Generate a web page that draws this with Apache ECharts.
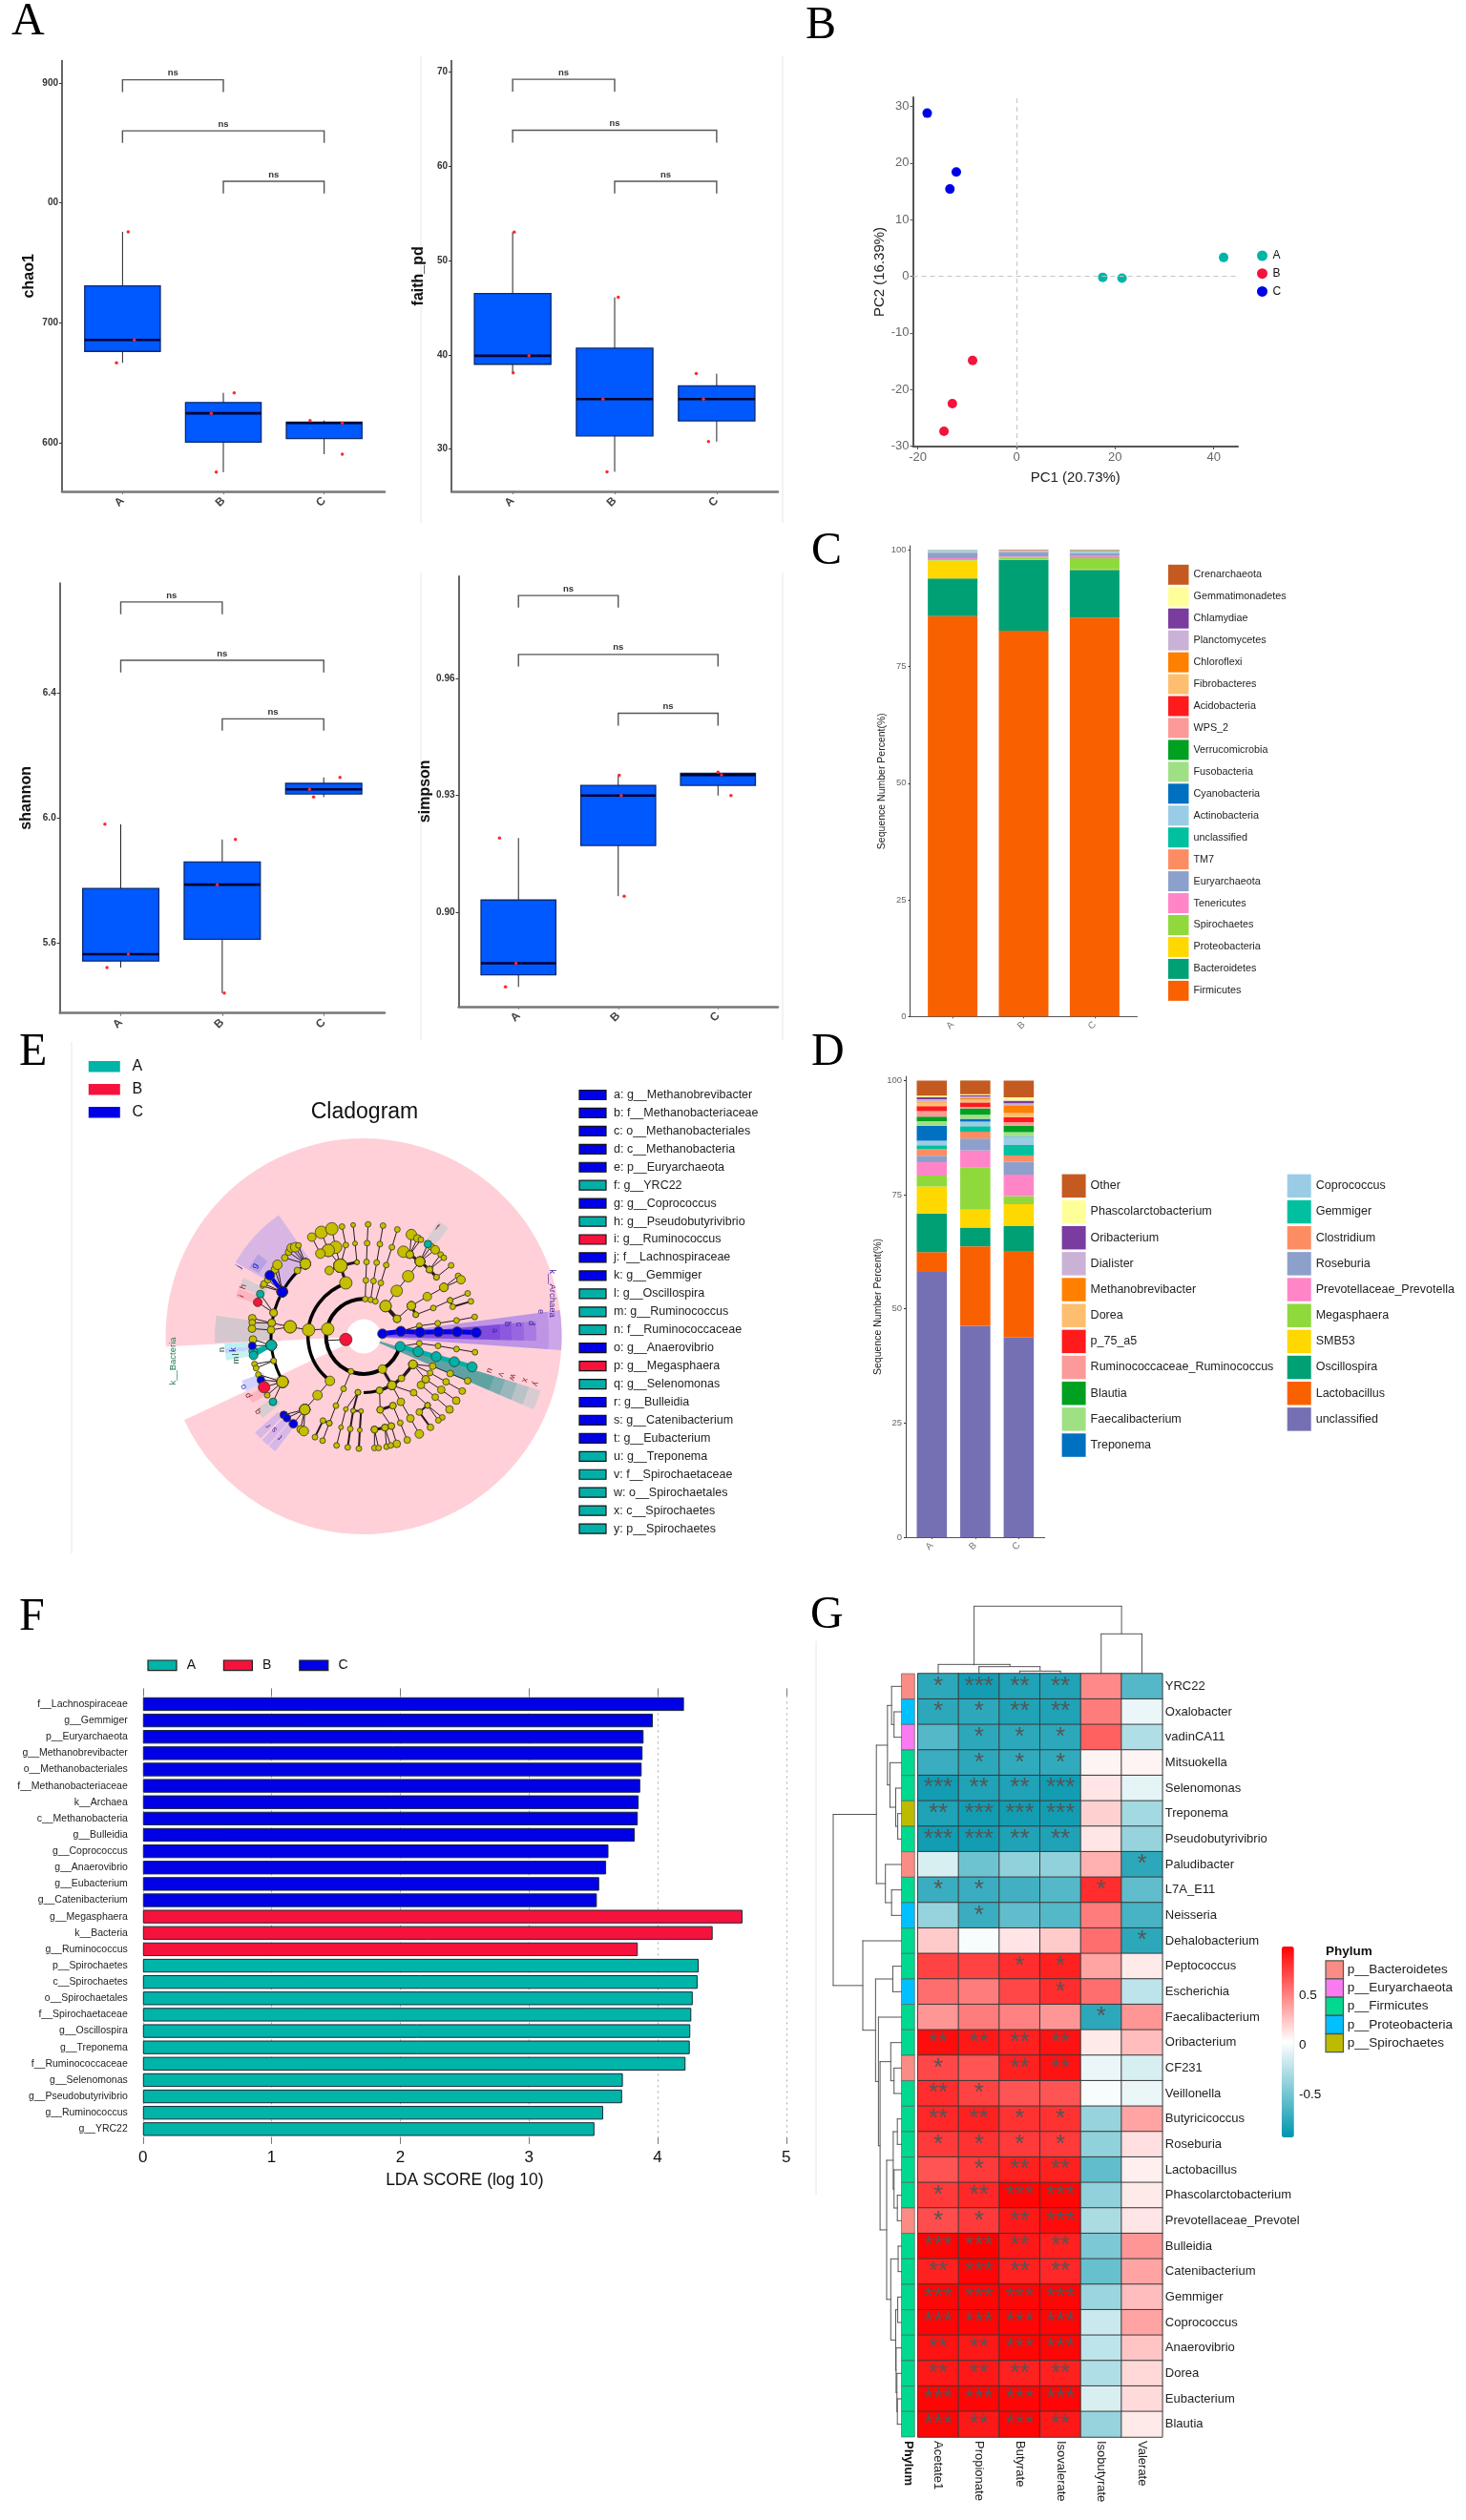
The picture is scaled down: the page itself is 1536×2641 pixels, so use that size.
<!DOCTYPE html>
<html><head><meta charset="utf-8">
<style>html,body{margin:0;padding:0;background:#fff}#c{width:1536px;height:2641px}</style>
<script src="https://cdn.jsdelivr.net/npm/echarts@6/dist/echarts.min.js"></script>
</head><body><div id="c"></div>
<script>
// ---------- Panel A ----------
const groups = ['A','B','C'];
// each box: hi whisker, q3, median, q1, lo whisker
const chao1Boxes = [[776,731,686,676.5,667],[642,634,625,601,576],[619,617.6,617,604,591]];
const chao1Points = [[1.056,776],[1.117,686],[0.94,667],[2.107,642],[1.88,625],[1.93,576],[2.86,619],[3.18,617],[3.18,591]];
const chao1Brackets = [[1,2,902.5,892.3],[1,3,860,850],[2,3,818,808]];
const faithBoxes = [[53,46.5,39.9,39,38.1],[46.1,40.7,35.3,31.4,27.6],[38,36.7,35.3,33,30.8]];
const faithPoints = [[1.015,53],[1.16,39.9],[1.005,38.1],[2.035,46.1],[1.885,35.3],[1.925,27.6],[2.8,38],[2.87,35.3],[2.92,30.8]];
const faithBrackets = [[1,2,69.2,67.9],[1,3,63.8,62.5],[2,3,58.4,57.1]];
const shannonBoxes = [[5.98,5.774,5.563,5.541,5.52],[5.931,5.859,5.786,5.611,5.438],[6.13,6.111,6.092,6.077,6.067]];
const shannonPoints = [[0.844,5.98],[1.075,5.563],[0.864,5.52],[2.13,5.931],[1.95,5.786],[2.02,5.438],[3.16,6.13],[2.86,6.092],[2.9,6.067]];
const shannonBrackets = [[1,2,6.693,6.654],[1,3,6.506,6.467],[2,3,6.318,6.28]];
const simpsonBoxes = [[0.9191,0.9032,0.887,0.884,0.8809],[0.9352,0.9326,0.93,0.9172,0.9042],[0.936,0.9357,0.9353,0.9326,0.93]];
const simpsonPoints = [[0.81,0.9191],[0.975,0.887],[0.87,0.8809],[2.01,0.9352],[2.03,0.93],[2.06,0.9042],[3.0,0.936],[3.035,0.9353],[3.13,0.93]];
const simpsonBrackets = [[1,2,0.9813,0.9782],[1,3,0.9662,0.9631],[2,3,0.9511,0.9479]];

// ---------- Panel B ----------
const pcaA = [[17.5,-0.2],[21.4,-0.35],[42,3.3]];
const pcaB = [[-8.9,-14.9],[-13,-22.5],[-14.7,-27.4]];
const pcaC = [[-18.1,28.8],[-12.2,18.4],[-13.5,15.4]];

// ---------- Panel C (bottom to top) ----------
const phylaNames = ['Firmicutes','Bacteroidetes','Proteobacteria','Spirochaetes','Tenericutes','Euryarchaeota','TM7','unclassified','Actinobacteria','Cyanobacteria','Fusobacteria','Verrucomicrobia','WPS_2','Acidobacteria','Fibrobacteres','Chloroflexi','Planctomycetes','Chlamydiae','Gemmatimonadetes','Crenarchaeota'];
const phylaColors = ['#F96000','#00A075','#FFD800','#8FD93D','#FF85C8','#8DA0CB','#FC8D62','#00C0A0','#9ACDE5','#0070C0','#A0E085','#00A020','#FB9A99','#FF1A1C','#FDBF6F','#FF7F00','#CAB2D6','#7A3C9E','#FFFF99','#C55A20'];
const phylaA = [85.8,8.1,3.8,0.1,0.4,1.2,0.05,0.05,0.4,0.02,0.01,0.01,0.01,0.01,0.01,0.01,0.01,0.01,0.0,0.01];
const phylaB = [82.7,15.2,0.1,0.4,0.2,0.85,0.1,0.05,0.1,0.03,0.02,0.02,0.03,0.02,0.02,0.02,0.02,0.01,0.01,0.1];
const phylaC = [85.5,10.2,0.1,2.4,0.5,0.55,0.05,0.05,0.45,0.02,0.01,0.01,0.02,0.01,0.01,0.01,0.01,0.01,0.01,0.08];

// ---------- Panel D (bottom to top) ----------
const genusNames = ['unclassified','Lactobacillus','Oscillospira','SMB53','Megasphaera','Prevotellaceae_Prevotella','Roseburia','Clostridium','Gemmiger','Coprococcus','Treponema','Faecalibacterium','Blautia','Ruminococcaceae_Ruminococcus','p_75_a5','Dorea','Methanobrevibacter','Dialister','Oribacterium','Phascolarctobacterium','Other'];
const genusColors = ['#7570B3','#F96000','#00A075','#FFD800','#8FD93D','#FF85C8','#8DA0CB','#FC8D62','#00C0A0','#9ACDE5','#0070C0','#A0E085','#00A020','#FB9A99','#FF1A1C','#FDBF6F','#FF7F00','#CAB2D6','#7A3C9E','#FFFF99','#C55A20'];
const genusA = [58.1,4.3,8.5,5.9,2.4,2.9,1.4,1.5,0.8,1.0,3.3,1.0,1.0,1.2,1.1,0.8,0.2,0.5,0.4,0.4,3.3];
const genusB = [46.3,17.4,4.1,3.9,9.2,3.8,2.6,1.5,1.2,1.0,0.6,0.9,1.4,0.3,1.0,0.6,0.3,0.4,0.3,0.2,3.0];
const genusC = [43.7,19.0,5.4,4.8,1.8,4.7,2.8,1.4,2.3,1.8,0.1,0.9,1.4,0.8,1.1,0.9,1.7,0.4,0.6,0.7,3.7];
const genusLegend1 = ['Other','Phascolarctobacterium','Oribacterium','Dialister','Methanobrevibacter','Dorea','p_75_a5','Ruminococcaceae_Ruminococcus','Blautia','Faecalibacterium','Treponema'];
const genusLegend2 = ['Coprococcus','Gemmiger','Clostridium','Roseburia','Prevotellaceae_Prevotella','Megasphaera','SMB53','Oscillospira','Lactobacillus','unclassified'];

// ---------- Panel E ----------
const cladeColors = {y:'#C6BE00',r:'#F5123C',b:'#0000E6',t:'#00B0A8'};
const cladeListNames = ['a: g__Methanobrevibacter','b: f__Methanobacteriaceae','c: o__Methanobacteriales','d: c__Methanobacteria','e: p__Euryarchaeota','f: g__YRC22','g: g__Coprococcus','h: g__Pseudobutyrivibrio','i: g__Ruminococcus','j: f__Lachnospiraceae','k: g__Gemmiger','l: g__Oscillospira','m: g__Ruminococcus','n: f__Ruminococcaceae','o: g__Anaerovibrio','p: g__Megasphaera','q: g__Selenomonas','r: g__Bulleidia','s: g__Catenibacterium','t: g__Eubacterium','u: g__Treponema','v: f__Spirochaetaceae','w: o__Spirochaetales','x: c__Spirochaetes','y: p__Spirochaetes'];
const cladeListGroups = ['b','b','b','b','b','t','b','t','r','b','b','t','t','t','b','r','t','b','b','b','t','t','t','t','t'];
// sectors: outer radius, inner radius (px of the source at 1:1), from angle, to angle, colour
const cladeSectors = [
 [207.5,18,205,543,'#FFD0D8'],
 [207.5,18,-4,7.6,'#CBA6E8'],[194,18,-4,7.6,'rgba(110,40,210,0.14)'],[181,18,-1.5,5,'rgba(90,30,220,0.22)'],[168,18,-1.5,5,'rgba(90,30,220,0.2)'],[155,18,-1.5,5,'rgba(90,30,220,0.2)'],[143,18,-1.5,5,'rgba(90,30,220,0.2)'],
 [194,18,-23.3,-17,'#D8CCD2'],[181,18,-23.3,-17,'rgba(30,140,140,0.16)'],[168,18,-23.3,-17,'rgba(30,140,140,0.2)'],[155,18,-23.3,-17,'rgba(30,140,140,0.25)'],[143,18,-23.3,-17,'rgba(30,140,140,0.3)'],
 [144,118,52,57,'#D8CDD2'],
 [155,95,125,150,'#D8B6E4'],[140,128,142,149,'#B8A0E4'],
 [140,112,154,158.5,'#D8CCD2'],[140,112,159,163,'#FFB4C0'],
 [156,95,172,182.5,'#D4C8CE'],
 [146,112,183,185,'#B8F0F2'],[146,112,185,187,'#C0D4FF'],[146,112,187,190,'#C4F2EE'],
 [136,112,200,205,'#D2D2FF'],[136,112,207,211,'#FFB4C0'],[136,112,214,219,'#D8CED2'],
 [152,120,221.5,224.8,'#D6B8E8'],[152,120,225.5,228.8,'#D6B8E8'],[152,120,229.2,232.5,'#D6B8E8']
];
// arcs: radius (clade units), from angle, to angle, line width
const cladeArcs = [[118,90,345,4],[175,108,233,3.5],[177,270,330,3],[291,135,209,3]];
// branches, centred on its root (left half)
const cladeChainsLeft = [
 [1,[337,400,13,'r'],[275,403,0]],
 [1,[280,367,13],[220,370,13],[162,360,13],[104,348,8],[43,333,8]],[1,[104,348,8],[43,347,7]],[1,[162,360,13],[102,370,8],[42,366,8]],
 [1,[110,316,8],[60,283,9,'r']],[1,[110,316,8],[68,257,8,'t']],
 [1,[137,250,11,'b'],[75,232,5]],[1,[137,250,11,'b'],[80,225,7]],[1,[137,250,11,'b'],[92,212,7]],[1,[137,250,11,'b'],[114,180,8]],[1,[137,250,11,'b'],[122,165,10]],[4,[137,250,11,'b'],[98,198,10,'b']],
 [2,[185,183,7],[210,162,11]],[1,[210,162,11],[145,143,7]],[1,[210,162,11],[157,125,7]],[1,[210,162,11],[165,112,9]],[1,[210,162,11],[178,110,10]],[1,[210,162,11],[188,104,6]],
 [1,[103,418,11,'t'],[45,400,8]],[4,[103,418,11,'t'],[46,437,9,'t']],[4,[103,418,11,'t'],[47,450,9,'t']],[1,[103,418,11,'t'],[43,420,8,'b']],
 [1,[110,467,6],[50,477,6]],[1,[110,467,6],[55,490,6]],
 [1,[138,533,12],[62,510,6]],[1,[138,533,12],[70,527,8,'b']],[1,[138,533,12],[90,575,6]],[1,[138,533,12],[108,596,8,'t']],[1,[138,533,12],[80,550,12,'r']],
 [1,[287,530,10],[248,575,10],[208,620,11],[142,637,8,'b']],[1,[208,620,11],[152,647,8,'b']],[1,[208,620,11],[172,665,9,'b']],[1,[208,620,11],[195,682,8]],[1,[208,620,11],[205,688,10]],
 [3,[337,222,13],[320,168,14]],[3,[320,168,14],[372,157,5]],[1,[372,157,5],[366,98,5],[360,40,5]],[1,[320,168,14],[285,183,9]],[1,[320,168,14],[282,120,13],[260,63,13]],[1,[320,168,14],[305,110,13],[293,52,13]],[1,[282,120,13],[257,130,10],[230,78,9]],[1,[320,168,14],[337,103,6],[325,45,6]],
 [1,[353,500,6],[330,555,6],[306,608,6],[285,663,6],[264,718,6]],[2,[285,663,6],[265,655,6],[240,707,6]],
 [1,[375,566,6],[337,619,5],[322,676,5],[308,733,6]],[2,[375,566,6],[360,624,5],[351,681,6],[343,739,6]],[2,[360,624,5],[385,625,5],[381,685,5],[378,743,6]]
];
// right half
const cladeChainsRight = [
 [1,[8,273,6],[10,214,6],[12,156,6],[14,97,6],[17,38,6]],
 [1,[25,275,6],[34,216,6],[44,158,6],[54,100,6],[64,42,6]],
 [1,[40,280,6],[57,222,6],[74,166,6],[92,110,6],[109,54,6]],
 [4,[72,295,12],[108,335,8]],
 [1,[72,295,12],[107,247,12],[143,201,12],[180,155,10]],
 [3,[148,133,8],[180,155,10]],[1,[148,133,8],[153,70,11]],[1,[148,133,8],[172,82,8]],[1,[128,124,12],[180,155,10]],[1,[148,133,8],[183,86,6]],
 [1,[180,155,10],[215,108,7]],[1,[180,155,10],[228,118,9]],[1,[180,155,10],[205,100,8,'t']],
 [3,[180,155,10],[210,180,7]],[3,[210,180,7],[232,204,6]],[1,[210,180,7],[245,133,6]],[1,[210,180,7],[255,143,6]],[1,[232,204,6],[278,167,6]],
 [1,[108,335,8],[153,294,9]],[1,[153,294,9],[203,265,9],[255,236,9],[300,200,6]],[1,[255,236,9],[309,212,9]],
 [3,[153,294,9],[167,322,6]],[1,[167,322,6],[222,301,6],[275,277,6],[330,255,6]],[2,[275,277,6],[283,297,6],[340,280,6]],
 [1,[120,374,0],[178,357,6],[236,349,6],[295,340,6],[352,329,6]],
 [1,[118,422,0],[178,412,6],[237,420,6],[295,430,6],[353,440,6]],
 [5,[62,382,10,'b'],[120,374,10.5,'b'],[180,377,10.5,'b'],[238,376,10.5,'b'],[297,376,10.5,'b'],[357,378,10.5,'b']],
 [5,[118,422,10.5,'t'],[174,438,10.5,'t'],[231,454,10.5,'t'],[288,470,10.5,'t'],[344,486,10.5,'t']],
 [3,[62,493,9],[92,544,9]],[3,[92,544,9],[122,522,7],[158,478,9]],
 [1,[158,478,9],[220,484,7],[275,507,7],[330,530,7]],[1,[158,478,9],[212,505,6],[262,533,7],[313,562,7]],
 [1,[158,478,9],[198,525,8],[247,558,8],[294,592,8]],[1,[198,525,8],[183,543,8],[228,581,7],[273,620,8]],
 [1,[92,544,9],[160,567,7],[204,607,6],[250,645,6]],[2,[204,607,6],[178,628,7],[213,676,7]],[1,[204,607,6],[238,654,6]],
 [1,[92,544,9],[120,596,8],[150,648,8],[178,697,9]],
 [3,[92,544,9],[53,560,7]],[1,[53,560,7],[55,621,7],[90,672,7],[107,728,8]],[3,[55,621,7],[95,608,7]],[1,[95,608,7],[118,662,6],[140,716,7]],
 [3,[37,683,7],[70,677,7],[90,672,7]],[1,[37,683,7],[37,741,6]],[1,[37,683,7],[50,741,6]],[1,[70,677,7],[75,737,6]],[1,[70,677,7],[88,733,6]]
];
// clade letters: text, x, y (px from root), rotation, colour
const cladeLetters = [
 ['a',137,6,-90,'#4020A0'],['b',150,13,-90,'#4020A0'],['c',162,12.5,-90,'#4020A0'],['d',175,14,-90,'#4020A0'],['e',185,26,-90,'#4020A0'],
 ['u',132,-36,-110,'#8B2020'],['v',144,-40,-110,'#8B2020'],['w',156,-43,-110,'#8B2020'],['x',169,-46,-110,'#8B2020'],['y',180,-50,-110,'#8B2020'],
 ['f',77,114,-35,'#8B2020'],['g',-114,74,60,'#2020C0'],['j',-131,73,60,'#2020C0'],['h',-126,52,70,'#8B2020'],['i',-128,42,70,'#8B2020'],
 ['n',-148,-14,90,'#205040'],['k',-136,-14,90,'#2020C0'],['l',-133,-19,90,'#205040'],['m',-133,-25,90,'#205040'],
 ['o',-126,-53,110,'#2020C0'],['p',-121,-62,115,'#8B2020'],['q',-111,-79,125,'#8B2020'],['r',-100,-94,130,'#6020A0'],['s',-93.5,-98,135,'#6020A0'],['t',-87.5,-106,135,'#6020A0'],
 ['k__Archaea',198,45,-90,'#4020A0'],['k__Bacteria',-200,-26,90,'#1E7A50']
];

// ---------- Panel F ----------
const ldaNames = ['f__Lachnospiraceae','g__Gemmiger','p__Euryarchaeota','g__Methanobrevibacter','o__Methanobacteriales','f__Methanobacteriaceae','k__Archaea','c__Methanobacteria','g__Bulleidia','g__Coprococcus','g__Anaerovibrio','g__Eubacterium','g__Catenibacterium','g__Megasphaera','k__Bacteria','g__Ruminococcus','p__Spirochaetes','c__Spirochaetes','o__Spirochaetales','f__Spirochaetaceae','g__Oscillospira','g__Treponema','f__Ruminococcaceae','g__Selenomonas','g__Pseudobutyrivibrio','g__Ruminococcus ','g__YRC22'];
const ldaValues = [4.205,3.963,3.891,3.883,3.876,3.865,3.853,3.846,3.823,3.618,3.6,3.546,3.528,4.66,4.428,3.846,4.319,4.311,4.273,4.262,4.254,4.25,4.217,3.73,3.724,3.577,3.509];
const ldaGroups = ['C','C','C','C','C','C','C','C','C','C','C','C','C','B','B','B','A','A','A','A','A','A','A','A','A','A','A'];
const groupColors = {A:'#00B4A8',B:'#F5123C',C:'#0000E6'};

// ---------- Panel G ----------
const acids = ['Acetate1','Propionate','Butyrate','Isovalerate','Isobutyrate','Valerate'];
const genera = ['YRC22','Oxalobacter','vadinCA11','Mitsuokella','Selenomonas','Treponema','Pseudobutyrivibrio','Paludibacter','L7A_E11','Neisseria','Dehalobacterium','Peptococcus','Escherichia','Faecalibacterium','Oribacterium','CF231','Veillonella','Butyricicoccus','Roseburia','Lactobacillus','Phascolarctobacterium','Prevotellaceae_Prevotel','Bulleidia','Catenibacterium','Gemmiger','Coprococcus','Anaerovibrio','Dorea','Eubacterium','Blautia'];
const corr = [
[-.8,-.9,-.85,-.85,.45,-.65],[-.8,-.8,-.85,-.85,.5,-.08],[-.65,-.8,-.8,-.8,.6,-.3],[-.75,-.8,-.78,-.78,.04,.04],[-.9,-.85,-.85,-.9,.1,-.1],
[-.85,-.9,-.9,-.9,.18,-.35],[-.9,-.9,-.85,-.85,.1,-.4],[-.15,-.55,-.42,-.42,.3,-.8],[-.75,-.75,-.72,-.65,.8,-.6],[-.4,-.75,-.6,-.65,.5,-.7],
[.2,-.03,.1,.2,.55,-.8],[.72,.72,.8,.85,.35,.08],[.55,.5,.7,.8,.55,-.25],[.4,.5,.48,.4,-.8,.4],[.92,.88,.85,.9,.08,.25],
[.7,.65,.85,.9,-.08,-.15],[.8,.72,.65,.65,-.03,-.08],[.82,.85,.78,.78,-.4,.35],[.75,.78,.75,.75,-.42,.12],[.65,.75,.85,.85,-.6,.06],
[.75,.82,.95,.95,-.42,.08],[.68,.75,.88,.93,-.32,.1],[.95,.97,.88,.85,-.5,.4],[.85,.95,.85,.82,-.58,.35],[.95,.95,.95,.95,-.38,.25],
[.95,.95,.95,.95,-.2,.35],[.9,.88,.95,.95,-.25,.22],[.88,.88,.85,.85,-.3,.15],[.95,.95,.95,.95,-.15,.14],[.95,.88,.95,.88,-.4,.08]];
const stars = [
[1,3,2,2,0,0],[1,1,2,2,0,0],[0,1,1,1,0,0],[0,1,1,1,0,0],[3,2,2,3,0,0],[2,3,3,3,0,0],[3,3,2,2,0,0],[0,0,0,0,0,1],[1,1,0,0,1,0],[0,1,0,0,0,0],
[0,0,0,0,0,1],[0,0,1,1,0,0],[0,0,0,1,0,0],[0,0,0,0,1,0],[2,2,2,2,0,0],[1,0,2,2,0,0],[2,1,0,0,0,0],[2,2,1,1,0,0],[1,1,1,1,0,0],[0,1,2,2,0,0],
[1,2,3,3,0,0],[1,1,2,3,0,0],[3,3,2,2,0,0],[2,3,2,2,0,0],[3,3,3,3,0,0],[3,3,3,3,0,0],[2,2,3,3,0,0],[2,2,2,2,0,0],[3,3,3,3,0,0],[3,2,3,2,0,0]];
const phylumNames = ['p__Bacteroidetes','p__Euryarchaeota','p__Firmicutes','p__Proteobacteria','p__Spirochaetes'];
const phylumColors = ['#F98C84','#F97BF0','#00D98F','#00C0FF','#BDBB00'];
const rowPhylum = [0,3,1,2,2,4,2,0,2,3,2,2,3,2,2,0,2,2,2,2,2,0,2,2,2,2,2,2,2,2];
// column dendrogram: left col, right col, height, left foot, right foot
const colDendrogram = [[0.88,4.5,212,27,125],[4,5,125,0,0],[0,1.76,29,0,24],[1,2.5,22,0,10],[2,3,8,0,0]];
// row dendrogram: [height, branch, branch], a leaf is a row number
const rowDendrogram = [166,
 [61,[34,[24,0,[18,1,2]],[28,3,[14,4,[9,5,6]]]],[39,7,[24,8,9]]],
 [94,10,[63,[21,11,12],[56,13,[52,[26,14,[18,15,16]],[36,[20,[10,17,18],[18,19,[10,20,21]]],[26,[8,22,23],[14,[9,24,25],[13,26,[11,27,[10,28,29]]]]]]]]]]];

// ---------- helpers ----------
const FAM='Liberation Sans';
const SANS='"Liberation Sans", Arial, sans-serif';
const grids=[],xAxes=[],yAxes=[],series=[],graphic=[];
function addGrid(r,x,y){const i=grids.length;grids.push({left:r[0],top:r[1],width:r[2],height:r[3]});
  xAxes.push(Object.assign({gridIndex:i},x));yAxes.push(Object.assign({gridIndex:i},y));return i;}
const hidden={type:'value',show:false,splitLine:{show:false}};
function text(t,x,y,o){graphic.push({type:'text',silent:true,x:x,y:y,rotation:(o&&o.rot)||0,z:50,
  style:{text:t,fill:(o&&o.fill)||'#111',font:(o&&o.font)||('12px '+SANS),align:(o&&o.align)||'left',verticalAlign:'middle'}});}
function rect(x,y,w,h,fill,stroke){graphic.push({type:'rect',silent:true,z:50,shape:{x:x,y:y,width:w,height:h},style:{fill:fill,stroke:stroke||null,lineWidth:stroke?1.2:0}});}
function vline(x,y0,y1){graphic.push({type:'line',silent:true,z:0,shape:{x1:x,y1:y0,x2:x,y2:y1},style:{stroke:'#e6e6e6',lineWidth:1}});}
function catX(color,lw,size,weight,rot,margin,tickLen){return {type:'value',min:0.4,max:3.6,splitLine:{show:false},
  axisLine:{show:true,onZero:false,lineStyle:{color:color,width:lw}},
  axisTick:{show:true,customValues:[1,2,3],length:tickLen,lineStyle:{color:color}},
  axisLabel:{customValues:[1,2,3],rotate:rot,margin:margin,fontFamily:FAM,fontSize:size,fontWeight:weight,color:'#444',formatter:v=>groups[v-1]}};}
function valY(min,max,ticks,name,gap,fmt,size,weight,lineColor,nameFont){return {type:'value',min:min,max:max,splitLine:{show:false},
  name:name,nameLocation:'middle',nameGap:gap,nameTextStyle:nameFont,
  axisLine:{show:true,onZero:false,lineStyle:{color:lineColor||'#333',width:1.5}},
  axisTick:{show:true,customValues:ticks,length:3,lineStyle:{color:'#333'}},
  axisLabel:{customValues:ticks,fontFamily:FAM,fontSize:size,fontWeight:weight,color:'#333',margin:4,formatter:fmt}};}

function boxPanel(r,yr,ticks,name,gap,boxes,points,brackets,fmt){
  const g=addGrid(r,catX('#777',2.5,12,'bold',45,8,3),
    valY(yr[0],yr[1],ticks,name,gap,fmt,10,'bold','#333',{fontFamily:FAM,fontWeight:'bold',fontSize:16,color:'#111'}));
  series.push({type:'custom',xAxisIndex:g,yAxisIndex:g,silent:true,animation:false,
    data:boxes.map((b,i)=>[i+1,b[0],b[1],b[2],b[3],b[4]]),
    renderItem:(p,api)=>{const x=api.value(0),w=api.size([0.75,0])[0];
      const pt=k=>api.coord([x,api.value(k)]);
      const hi=pt(1),q3=pt(2),md=pt(3),q1=pt(4),lo=pt(5);
      return {type:'group',children:[
        {type:'line',shape:{x1:hi[0],y1:hi[1],x2:lo[0],y2:lo[1]},style:{stroke:'#222',lineWidth:1}},
        {type:'rect',shape:{x:q3[0]-w/2,y:q3[1],width:w,height:q1[1]-q3[1]},style:{fill:'#0058FF',stroke:'#0A2A6E',lineWidth:1.3}},
        {type:'line',shape:{x1:md[0]-w/2,y1:md[1],x2:md[0]+w/2,y2:md[1]},style:{stroke:'#000030',lineWidth:2.6}}]};}});
  series.push({type:'scatter',xAxisIndex:g,yAxisIndex:g,silent:true,animation:false,symbolSize:3.5,z:5,data:points,itemStyle:{color:'#FF2A2A',opacity:1}});
  series.push({type:'custom',xAxisIndex:g,yAxisIndex:g,silent:true,animation:false,data:brackets,
    renderItem:(p,api)=>{const a=api.coord([api.value(0),api.value(2)]),b=api.coord([api.value(1),api.value(2)]),
        c=api.coord([api.value(0),api.value(3)]),d=api.coord([api.value(1),api.value(3)]);
      return {type:'group',children:[
        {type:'polyline',shape:{points:[c,a,b,d]},style:{stroke:'#555',lineWidth:1.4,fill:'none'}},
        {type:'text',x:(a[0]+b[0])/2,y:a[1]-7,style:{text:'ns',font:'bold 9.5px '+SANS,fill:'#333',align:'center',verticalAlign:'middle'}}]};}});
}
function segments(g,segs,color,width){series.push({type:'custom',xAxisIndex:g,yAxisIndex:g,silent:true,animation:false,clip:false,data:segs,
  renderItem:(p,api)=>{const a=api.coord([api.value(0),api.value(1)]),b=api.coord([api.value(2),api.value(3)]);
    return {type:'line',shape:{x1:a[0],y1:a[1],x2:b[0],y2:b[1]},style:{stroke:color,lineWidth:width,lineCap:'round'}};}});}

// ---------- A ----------
boxPanel([65,63.6,338,451.4],[560,918.4],[600,700,800,900],'chao1',26,chao1Boxes,chao1Points,chao1Brackets,v=>v===800?'00':String(v));
boxPanel([473,63.6,342,451.4],[25.52,71.18],[30,40,50,60,70],'faith_pd',26,faithBoxes,faithPoints,faithBrackets,v=>String(v));
boxPanel([62.7,611,340.3,450.7],[5.374,6.754],[5.6,6.0,6.4],'shannon',27,shannonBoxes,shannonPoints,shannonBrackets,v=>v.toFixed(1));
boxPanel([480.5,603.7,334.5,451.1],[0.8759,0.9863],[0.90,0.93,0.96],'simpson',27,simpsonBoxes,simpsonPoints,simpsonBrackets,v=>v.toFixed(2));

// ---------- B ----------
const gB=addGrid([956.5,102,340.5,366],
 {type:'value',min:-21,max:44.9,splitLine:{show:false},name:'PC1 (20.73%)',nameLocation:'middle',nameGap:25,nameTextStyle:{fontFamily:FAM,fontSize:15,color:'#222'},
  axisLine:{show:true,onZero:false,lineStyle:{color:'#555',width:2}},axisTick:{show:true,customValues:[-20,0,20,40],length:3,lineStyle:{color:'#555'}},
  axisLabel:{customValues:[-20,0,20,40],fontFamily:FAM,fontSize:13,color:'#666',margin:5}},
 {type:'value',min:-30.1,max:31.6,splitLine:{show:false},name:'PC2 (16.39%)',nameLocation:'middle',nameGap:27,nameTextStyle:{fontFamily:FAM,fontSize:15,color:'#222'},
  axisLine:{show:true,onZero:false,lineStyle:{color:'#555',width:2}},axisTick:{show:true,customValues:[-30,-20,-10,0,10,20,30],length:3,lineStyle:{color:'#555'}},
  axisLabel:{customValues:[-30,-20,-10,0,10,20,30],fontFamily:FAM,fontSize:13,color:'#666',margin:4}});
[['A',pcaA,groupColors.A],['B',pcaB,groupColors.B],['C',pcaC,groupColors.C]].forEach((s,i)=>{
  series.push({type:'scatter',name:s[0],xAxisIndex:gB,yAxisIndex:gB,silent:true,animation:false,symbolSize:10,data:s[1],itemStyle:{color:s[2],opacity:1},
    markLine:i?undefined:{silent:true,symbol:'none',animation:false,label:{show:false},lineStyle:{color:'#c4c4c4',type:[5,4],width:1},data:[{xAxis:0},{yAxis:0}]}});});

// ---------- C / D : evenly spaced slots, so the groups keep their margins ----------
const slots=['','','','A','','','','','B','','','','','C','','',''];
const slotIndex=[3,8,13];
function stacked(r,names,colors,rows,barW,top,gap){
  const keep=(i,v)=>v!=='';
  const g=addGrid(r,{type:'category',boundaryGap:false,data:slots,
      axisLine:{show:true,lineStyle:{color:'#555',width:1}},axisTick:{show:true,interval:keep,length:2,lineStyle:{color:'#555'}},
      axisLabel:{interval:keep,rotate:45,margin:7,fontFamily:FAM,fontSize:10,color:'#777'}},
    valY(0,top,[0,25,50,75,100],'Sequence Number Percent(%)',gap,v=>String(v),9.5,'normal','#444',{fontFamily:FAM,fontSize:10.5,color:'#222'}));
  yAxes[g].axisLabel.color='#666';yAxes[g].axisLine.lineStyle.width=1;yAxes[g].axisTick.length=2;
  names.forEach((n,i)=>{const d=slots.map(()=>null);rows.forEach((row,k)=>{d[slotIndex[k]]=row[i];});
    series.push({type:'bar',name:n,xAxisIndex:g,yAxisIndex:g,stack:'s'+g,barWidth:barW,silent:true,animation:false,data:d,itemStyle:{color:colors[i]}});});
}
stacked([953.5,572,238,493.3],phylaNames,phylaColors,[phylaA,phylaB,phylaC],52,100.88,19);
stacked([949,1128,145.7,483],genusNames,genusColors,[genusA,genusB,genusC],31.6,100.92,20);
const phylaTop=phylaNames.slice().reverse().map(n=>({name:n,itemStyle:{color:phylaColors[phylaNames.indexOf(n)]}}));
const genusItem=n=>({name:n,itemStyle:{color:genusColors[genusNames.indexOf(n)]}});
const legends=[
 {left:1317,top:262,orient:'vertical',padding:0,itemWidth:12,itemHeight:11,itemGap:6.7,selectedMode:false,icon:'circle',data:groups,textStyle:{fontFamily:FAM,fontSize:12,color:'#111'}},
 {left:1224,top:591.8,orient:'vertical',padding:0,itemWidth:21.5,itemHeight:21,itemGap:1.95,selectedMode:false,icon:'rect',data:phylaTop,textStyle:{fontFamily:FAM,fontSize:10.8,color:'#222'}},
 {left:1112.6,top:1230.6,orient:'vertical',padding:0,itemWidth:25,itemHeight:24.5,itemGap:2.67,selectedMode:false,icon:'rect',data:genusLegend1.map(genusItem),textStyle:{fontFamily:FAM,fontSize:12.5,color:'#222'}},
 {left:1348.7,top:1230.6,orient:'vertical',padding:0,itemWidth:25,itemHeight:24.5,itemGap:2.67,selectedMode:false,icon:'rect',data:genusLegend2.map(genusItem),textStyle:{fontFamily:FAM,fontSize:12.5,color:'#222'}}
];

// ---------- E ----------
const gE=addGrid([160,1179.5,442,442],Object.assign({},hidden,{min:-663,max:663}),Object.assign({},hidden,{min:-663,max:663}));
series.push({type:'custom',xAxisIndex:gE,yAxisIndex:gE,silent:true,animation:false,clip:false,data:cladeSectors.map(s=>[s[0]*3,s[1]*3,s[2],s[3]]),
  renderItem:(p,api)=>{const c=api.coord([0,0]),r=api.size([api.value(0),0])[0],r0=api.size([api.value(1),0])[0],D=Math.PI/180;
    return {type:'sector',shape:{cx:c[0],cy:c[1],r:r,r0:r0,startAngle:-api.value(3)*D,endAngle:-api.value(2)*D,clockwise:true},style:{fill:cladeSectors[p.dataIndex][4]}};}});
series.push({type:'custom',xAxisIndex:gE,yAxisIndex:gE,silent:true,animation:false,clip:false,data:cladeArcs,
  renderItem:(p,api)=>{const c=api.coord([0,0]),r=api.size([api.value(0),0])[0],D=Math.PI/180;
    return {type:'arc',shape:{cx:c[0],cy:c[1],r:r,startAngle:-api.value(2)*D,endAngle:-api.value(1)*D,clockwise:true},style:{stroke:'#000',lineWidth:api.value(3),fill:'none'}};}});
const cladeNodes=[],cladeEdges=[];
function addChains(chains,ox,oy){chains.forEach(ch=>{const w=ch[0],pts=ch.slice(1);
  pts.forEach((q,i)=>{const X=q[0]-ox,Y=oy-q[1];
    if(q[2]>0)cladeNodes.push({value:[X,Y,q[2]],itemStyle:{color:cladeColors[q[3]||'y']}});
    if(i){const pr=pts[i-1];cladeEdges.push([pr[0]-ox,oy-pr[1],X,Y,w,(w>=4&&q[3])?cladeColors[q[3]]:'#2A1A20']);}});});}
addChains(cladeChainsLeft,393,390);addChains(cladeChainsRight,3,390);
series.push({type:'custom',xAxisIndex:gE,yAxisIndex:gE,silent:true,animation:false,clip:false,data:cladeEdges.map(e=>e.slice(0,5)),
  renderItem:(p,api)=>{const a=api.coord([api.value(0),api.value(1)]),b=api.coord([api.value(2),api.value(3)]);
    return {type:'line',shape:{x1:a[0],y1:a[1],x2:b[0],y2:b[1]},style:{stroke:cladeEdges[p.dataIndex][5],lineWidth:api.value(4)}};}});
series.push({type:'scatter',xAxisIndex:gE,yAxisIndex:gE,silent:true,animation:false,clip:false,data:cladeNodes,symbolSize:v=>v[2],itemStyle:{borderColor:'#3a3a20',borderWidth:0.8,opacity:1}});
series.push({type:'custom',xAxisIndex:gE,yAxisIndex:gE,silent:true,animation:false,clip:false,data:cladeLetters.map(l=>[l[1]*3,l[2]*3]),
  renderItem:(p,api)=>{const c=api.coord([api.value(0),api.value(1)]),l=cladeLetters[p.dataIndex];
    return {type:'text',x:c[0],y:c[1],rotation:l[3]*Math.PI/180,z2:10,style:{text:l[0],font:(l[0].length>1?'9.5px ':'9px ')+SANS,fill:l[4],align:'center',verticalAlign:'middle'}};}});
text('Cladogram',382,1166,{font:'23px '+SANS,align:'center'});
groups.forEach((n,i)=>{rect(92.8,1112+24*i,33,11.5,groupColors[n]);text(n,138.6,1118+24*i,{font:'16px '+SANS,fill:'#111'});});
cladeListNames.forEach((n,i)=>{const y=1147.5+18.94*i;rect(607,y-5,28,10,cladeColors[cladeListGroups[i]],'#111');text(n,643,y,{font:'12.5px '+SANS,fill:'#222'});});

// ---------- F ----------
const gF=addGrid([149.8,1777.4,674,462.5],
 {type:'value',min:0,max:5,interval:1,position:'bottom',name:'LDA SCORE (log 10)',nameLocation:'middle',nameGap:36,nameTextStyle:{fontFamily:FAM,fontSize:17.5,color:'#111'},
  axisLine:{show:false},axisTick:{show:true,length:7,lineStyle:{color:'#777'}},splitLine:{show:true,lineStyle:{color:'#aaa',type:[2,4],width:1}},
  axisLabel:{fontFamily:FAM,fontSize:17,color:'#111',margin:13}},
 {type:'category',data:ldaNames,inverse:true,axisLine:{show:false},axisTick:{show:false},splitLine:{show:false},
  axisLabel:{interval:0,fontFamily:FAM,fontSize:10.5,color:'#222',margin:16,formatter:v=>v.trim()}});
series.push({type:'bar',xAxisIndex:gF,yAxisIndex:gF,barWidth:14.3,silent:true,animation:false,
  data:ldaValues.map((v,i)=>({value:v,itemStyle:{color:groupColors[ldaGroups[i]]}})),itemStyle:{borderColor:'#18283a',borderWidth:1}});
groups.forEach((n,i)=>{const x=155+79.4*i;rect(x,1740,30,10.7,groupColors[n],'#222');text(n,x+40.7,1745.3,{font:'14px '+SANS});});

// ---------- G ----------
const gG=addGrid([961.7,1754,256.1,800],
 {type:'category',data:acids,position:'bottom',axisLine:{show:false},axisTick:{show:false},axisLabel:{interval:0,rotate:-90,fontFamily:FAM,fontSize:13,color:'#222',margin:4}},
 {type:'category',data:genera,inverse:true,position:'right',axisLine:{show:false},axisTick:{show:false},axisLabel:{interval:0,fontFamily:FAM,fontSize:13,color:'#222',margin:3}});
const heatData=[];corr.forEach((row,r)=>row.forEach((v,c)=>heatData.push([c,r,v,stars[r][c]])));
const heatIndex=series.length;
series.push({type:'heatmap',xAxisIndex:gG,yAxisIndex:gG,silent:true,animation:false,data:heatData,
  itemStyle:{borderColor:'#3a3a3a',borderWidth:1},
  label:{show:true,fontFamily:FAM,fontSize:26,color:'#555',formatter:p=>'*'.repeat(p.data[3])}});
const gP=addGrid([944.5,1754,13.8,800],
 {type:'category',data:['Phylum'],position:'bottom',axisLine:{show:false},axisTick:{show:false},axisLabel:{interval:0,rotate:-90,fontFamily:FAM,fontWeight:'bold',fontSize:13,color:'#111',margin:4}},
 {type:'category',data:genera,inverse:true,show:false});
series.push({type:'custom',xAxisIndex:gP,yAxisIndex:gP,silent:true,animation:false,data:rowPhylum.map((p,r)=>[0,r]),
  renderItem:(p,api)=>{const c=api.coord([0,api.value(1)]),s=api.size([1,1]);
    return {type:'rect',shape:{x:c[0]-s[0]/2,y:c[1]-s[1]/2,width:s[0],height:s[1]},style:{fill:phylumColors[rowPhylum[p.dataIndex]],stroke:'#555',lineWidth:0.6}};}});
const gCD=addGrid([961.7,1683.3,256.1,70.7],Object.assign({},hidden,{min:-0.5,max:5.5}),Object.assign({},hidden,{min:0,max:212}));
const cdSegs=[];colDendrogram.forEach(d=>{cdSegs.push([d[0],d[2],d[1],d[2]],[d[0],d[2],d[0],d[3]],[d[1],d[2],d[1],d[4]]);});
segments(gCD,cdSegs,'#555',1);
const gRD=addGrid([873,1754,71.5,800],Object.assign({},hidden,{min:0,max:166,inverse:true}),Object.assign({},hidden,{min:-0.5,max:29.5,inverse:true}));
const rdSegs=[];
function walk(n){if(typeof n==='number')return [n,0];const a=walk(n[1]),b=walk(n[2]),h=n[0];
  rdSegs.push([h,a[0],h,b[0]],[h,a[0],a[1],a[0]],[h,b[0],b[1],b[0]]);return [(a[0]+b[0])/2,h];}
walk(rowDendrogram);
segments(gRD,rdSegs,'#555',1);
[['0.5',2091.7],['0',2143],['-0.5',2195.7]].forEach(t=>text(t[0],1361,t[1],{font:'13.5px '+SANS}));
text('Phylum',1389,2045.7,{font:'bold 13.5px '+SANS});
phylumNames.forEach((n,i)=>{const y=2064.3+19.2*i;rect(1389,y-9.5,18.5,19,phylumColors[i],'#555');text(n,1411.7,y,{font:'13.5px '+SANS,fill:'#222'});});

// ---------- frame ----------
[['A',12,23],['B',844,27],['C',850,578],['D',850,1103],['E',20,1103],['F',20,1695],['G',849,1693]].forEach(l=>text(l[0],l[1],l[2],{font:'48px "Liberation Serif", serif',fill:'#000'}));
vline(441,59,548);vline(820,59,548);vline(441,600,1090);vline(820,600,1090);vline(75,1092,1628);vline(855,1720,2300);

xAxes.push({gridIndex:gF,type:'value',min:0,max:5,interval:1,position:'top',axisLine:{show:false},axisTick:{show:true,length:8,lineStyle:{color:'#777'}},axisLabel:{show:false},splitLine:{show:false}});

const chart=echarts.init(document.getElementById('c'),null,{renderer:'canvas',width:1536,height:2641});
chart.setOption({animation:false,backgroundColor:'#fff',tooltip:{show:false},
  grid:grids,xAxis:xAxes,yAxis:yAxes,series:series,legend:legends,graphic:{elements:graphic},
  visualMap:[{type:'continuous',seriesIndex:heatIndex,dimension:2,min:-0.97,max:0.97,show:true,calculable:false,left:1342.8,top:2040,padding:0,itemWidth:13,itemHeight:200,
    inRange:{color:['#0095AD','#FFFFFF','#FF0000']}}]});
</script></body></html>
